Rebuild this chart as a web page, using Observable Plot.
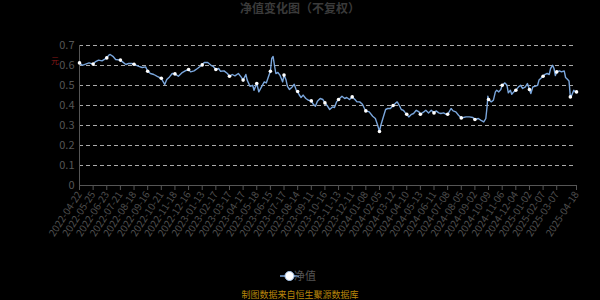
<!DOCTYPE html>
<html>
<head>
<meta charset="utf-8">
<script src="https://cdn.jsdelivr.net/npm/d3@7"></script>
<script src="https://cdn.jsdelivr.net/npm/@observablehq/plot@0.6"></script>
<style>
  html, body { margin: 0; padding: 0; background: #000; }
  #chart { width: 600px; height: 300px; }
</style>
</head>
<body>
<div id="chart"></div>
<script>
// Trading-day index of each sampled point (0 = 2022-04-22)
const dayIdx = [
  0, 4, 9, 14, 20, 23, 28, 33, 40, 43, 45, 49, 53, 60, 65, 68, 72, 77, 80, 87,
  92, 97, 100, 104, 109, 114, 120, 122, 125, 128, 132, 136, 140, 145, 150, 155, 160, 163, 168, 173,
  180, 183, 188, 193, 196, 200, 204, 207, 212, 217, 220, 224, 228, 233, 237, 240, 244, 246, 250, 254,
  256, 260, 263, 267, 271, 274, 277, 280, 282, 284, 286, 288, 291, 294, 296, 298, 300, 303, 305, 308,
  312, 315, 318, 320, 322, 325, 328, 332, 336, 340, 343, 346, 349, 353, 357, 360, 364, 367, 371, 374,
  377, 380, 385, 389, 392, 396, 400, 404, 407, 411, 415, 418, 420, 425, 430, 434, 437, 440, 442, 445,
  449, 452, 456, 460, 464, 466, 469, 472, 475, 478, 480, 483, 487, 490, 494, 498, 500, 505, 508, 512,
  516, 520, 523, 527, 530, 534, 538, 540, 545, 548, 552, 556, 560, 563, 567, 572, 577, 580, 585, 589,
  593, 596, 598, 599, 600, 604, 607, 610, 612, 615, 618, 620, 624, 627, 629, 632, 634, 637, 640, 644,
  647, 650, 654, 657, 660, 662, 665, 668, 672, 674, 678, 680, 683, 686, 689, 691, 694, 696, 698, 700,
  704, 707, 711, 713, 716, 718, 720, 722, 725, 727, 729
];
// 净值 (net asset value, unadjusted)
const navValues = [
  0.613, 0.601, 0.607, 0.613, 0.607, 0.618, 0.627, 0.623, 0.638, 0.652, 0.655, 0.646, 0.630, 0.627, 0.613, 0.605, 0.610, 0.610, 0.606, 0.596,
  0.590, 0.593, 0.571, 0.560, 0.555, 0.546, 0.536, 0.523, 0.505, 0.530, 0.543, 0.560, 0.558, 0.546, 0.563, 0.573, 0.580, 0.568, 0.573, 0.585,
  0.603, 0.615, 0.615, 0.601, 0.596, 0.580, 0.585, 0.571, 0.573, 0.560, 0.546, 0.555, 0.548, 0.560, 0.543, 0.527, 0.555, 0.527, 0.496, 0.501,
  0.476, 0.510, 0.468, 0.493, 0.518, 0.513, 0.543, 0.571, 0.635, 0.645, 0.600, 0.560, 0.565, 0.552, 0.535, 0.518, 0.552, 0.527, 0.496, 0.480,
  0.493, 0.506, 0.476, 0.470, 0.455, 0.440, 0.452, 0.435, 0.426, 0.423, 0.406, 0.396, 0.421, 0.435, 0.430, 0.413, 0.396, 0.380, 0.393, 0.390,
  0.418, 0.430, 0.446, 0.435, 0.440, 0.430, 0.443, 0.430, 0.418, 0.418, 0.406, 0.385, 0.373, 0.368, 0.346, 0.335, 0.305, 0.270, 0.301, 0.335,
  0.380, 0.385, 0.385, 0.400, 0.413, 0.418, 0.401, 0.380, 0.376, 0.363, 0.356, 0.343, 0.356, 0.360, 0.376, 0.368, 0.356, 0.368, 0.376, 0.363,
  0.376, 0.363, 0.373, 0.363, 0.360, 0.363, 0.356, 0.356, 0.385, 0.373, 0.368, 0.351, 0.338, 0.340, 0.343, 0.343, 0.340, 0.330, 0.335, 0.326,
  0.318, 0.335, 0.400, 0.446, 0.430, 0.418, 0.426, 0.468, 0.476, 0.468, 0.480, 0.501, 0.513, 0.501, 0.463, 0.476, 0.456, 0.468, 0.476, 0.493,
  0.501, 0.485, 0.493, 0.510, 0.480, 0.460, 0.493, 0.496, 0.501, 0.527, 0.540, 0.546, 0.556, 0.560, 0.555, 0.585, 0.601, 0.585, 0.550, 0.568,
  0.573, 0.568, 0.573, 0.540, 0.530, 0.523, 0.443, 0.451, 0.476, 0.468, 0.468
];
const xLabels = [
  "2022-04-22","2022-05-25","2022-06-23","2022-07-21","2022-08-18","2022-09-16","2022-10-21","2022-11-18","2022-12-16",
  "2023-01-13","2023-02-17","2023-03-17","2023-04-17","2023-05-18","2023-06-15","2023-07-17","2023-08-14","2023-09-11",
  "2023-10-16","2023-11-13","2023-12-11","2024-01-08","2024-02-05","2024-03-12","2024-04-10","2024-05-13","2024-06-11",
  "2024-07-08","2024-08-05","2024-09-02","2024-10-09","2024-11-06","2024-12-04","2025-01-02","2025-02-07","2025-03-07",
  "2025-04-18"
];
const yTicks = [0, 0.1, 0.2, 0.3, 0.4, 0.5, 0.6, 0.7];
const labelInterval = 20; // trading days between category labels

const lastIdx = dayIdx[dayIdx.length - 1];
const tickPos = xLabels.map((_, k) => k < xLabels.length - 1 ? k * labelInterval : lastIdx);
const labelAt = new Map(tickPos.map((p, k) => [p, xLabels[k]]));
const data = dayIdx.map((d, k) => ({i: d, v: navValues[k]}));
const dots = data.filter(d => d.i % labelInterval === 0 || d.i === lastIdx);

const font = "'Noto Sans CJK SC', 'Noto Sans', sans-serif";
const lineColor = "#7aa6dc";

const svg = Plot.plot({
  width: 600,
  height: 300,
  marginTop: 45,
  marginBottom: 115,
  marginLeft: 79,
  marginRight: 24,
  style: {background: "#000", color: "#555", fontFamily: font, fontSize: "10px"},
  x: {domain: [0, lastIdx], axis: null},
  y: {domain: [0, 0.7], axis: null},
  marks: [
    Plot.gridY(yTicks.filter(t => t > 0), {stroke: "#bdbdbd", strokeOpacity: 0.9, strokeDasharray: "4,3"}),
    Plot.axisY(yTicks, {tickSize: 0, tickPadding: 5, fill: "#555", fontSize: 11, label: null,
      tickFormat: d => String(+d.toFixed(1))}),
    Plot.ruleX([0], {stroke: "#555"}),
    Plot.ruleY([0], {stroke: "#555"}),
    Plot.axisX(tickPos, {tickSize: 5, stroke: "#555", tickRotate: -57, tickPadding: 2, label: null,
      fill: "#4d4d4d", fontSize: 10, tickFormat: d => labelAt.get(d)}),
    Plot.line(data, {x: "i", y: "v", stroke: lineColor, strokeWidth: 1.4}),
    Plot.dot(dots, {x: "i", y: "v", r: 1.8, fill: "#fff", stroke: null})
  ]
});

const s = d3.select(svg);
s.append("text").attr("x", 300).attr("y", 13).attr("text-anchor", "middle")
  .attr("fill", "#3a3a3a").attr("font-weight", "bold").attr("font-size", 12)
  .attr("font-family", font).text("净值变化图（不复权）");
s.append("text").attr("x", 55).attr("y", 64).attr("text-anchor", "middle")
  .attr("fill", "#8b1a1a").attr("font-size", 8).attr("font-family", font).text("元");
// legend
const lg = s.append("g");
lg.append("line").attr("x1", 280).attr("x2", 299).attr("y1", 276).attr("y2", 276)
  .attr("stroke", lineColor).attr("stroke-width", 1.5);
lg.append("circle").attr("cx", 289.5).attr("cy", 276).attr("r", 4.5)
  .attr("fill", "#fff").attr("stroke", "#a9c8ee").attr("stroke-width", 1);
lg.append("text").attr("x", 305).attr("y", 280).attr("fill", "#555")
  .attr("font-size", 11).attr("font-family", font).text("净值");
s.append("text").attr("x", 300).attr("y", 298).attr("text-anchor", "middle")
  .attr("fill", "#b8860b").attr("font-size", 9).attr("font-family", font)
  .text("制图数据来自恒生聚源数据库");

document.getElementById("chart").appendChild(svg);
</script>
</body>
</html>
